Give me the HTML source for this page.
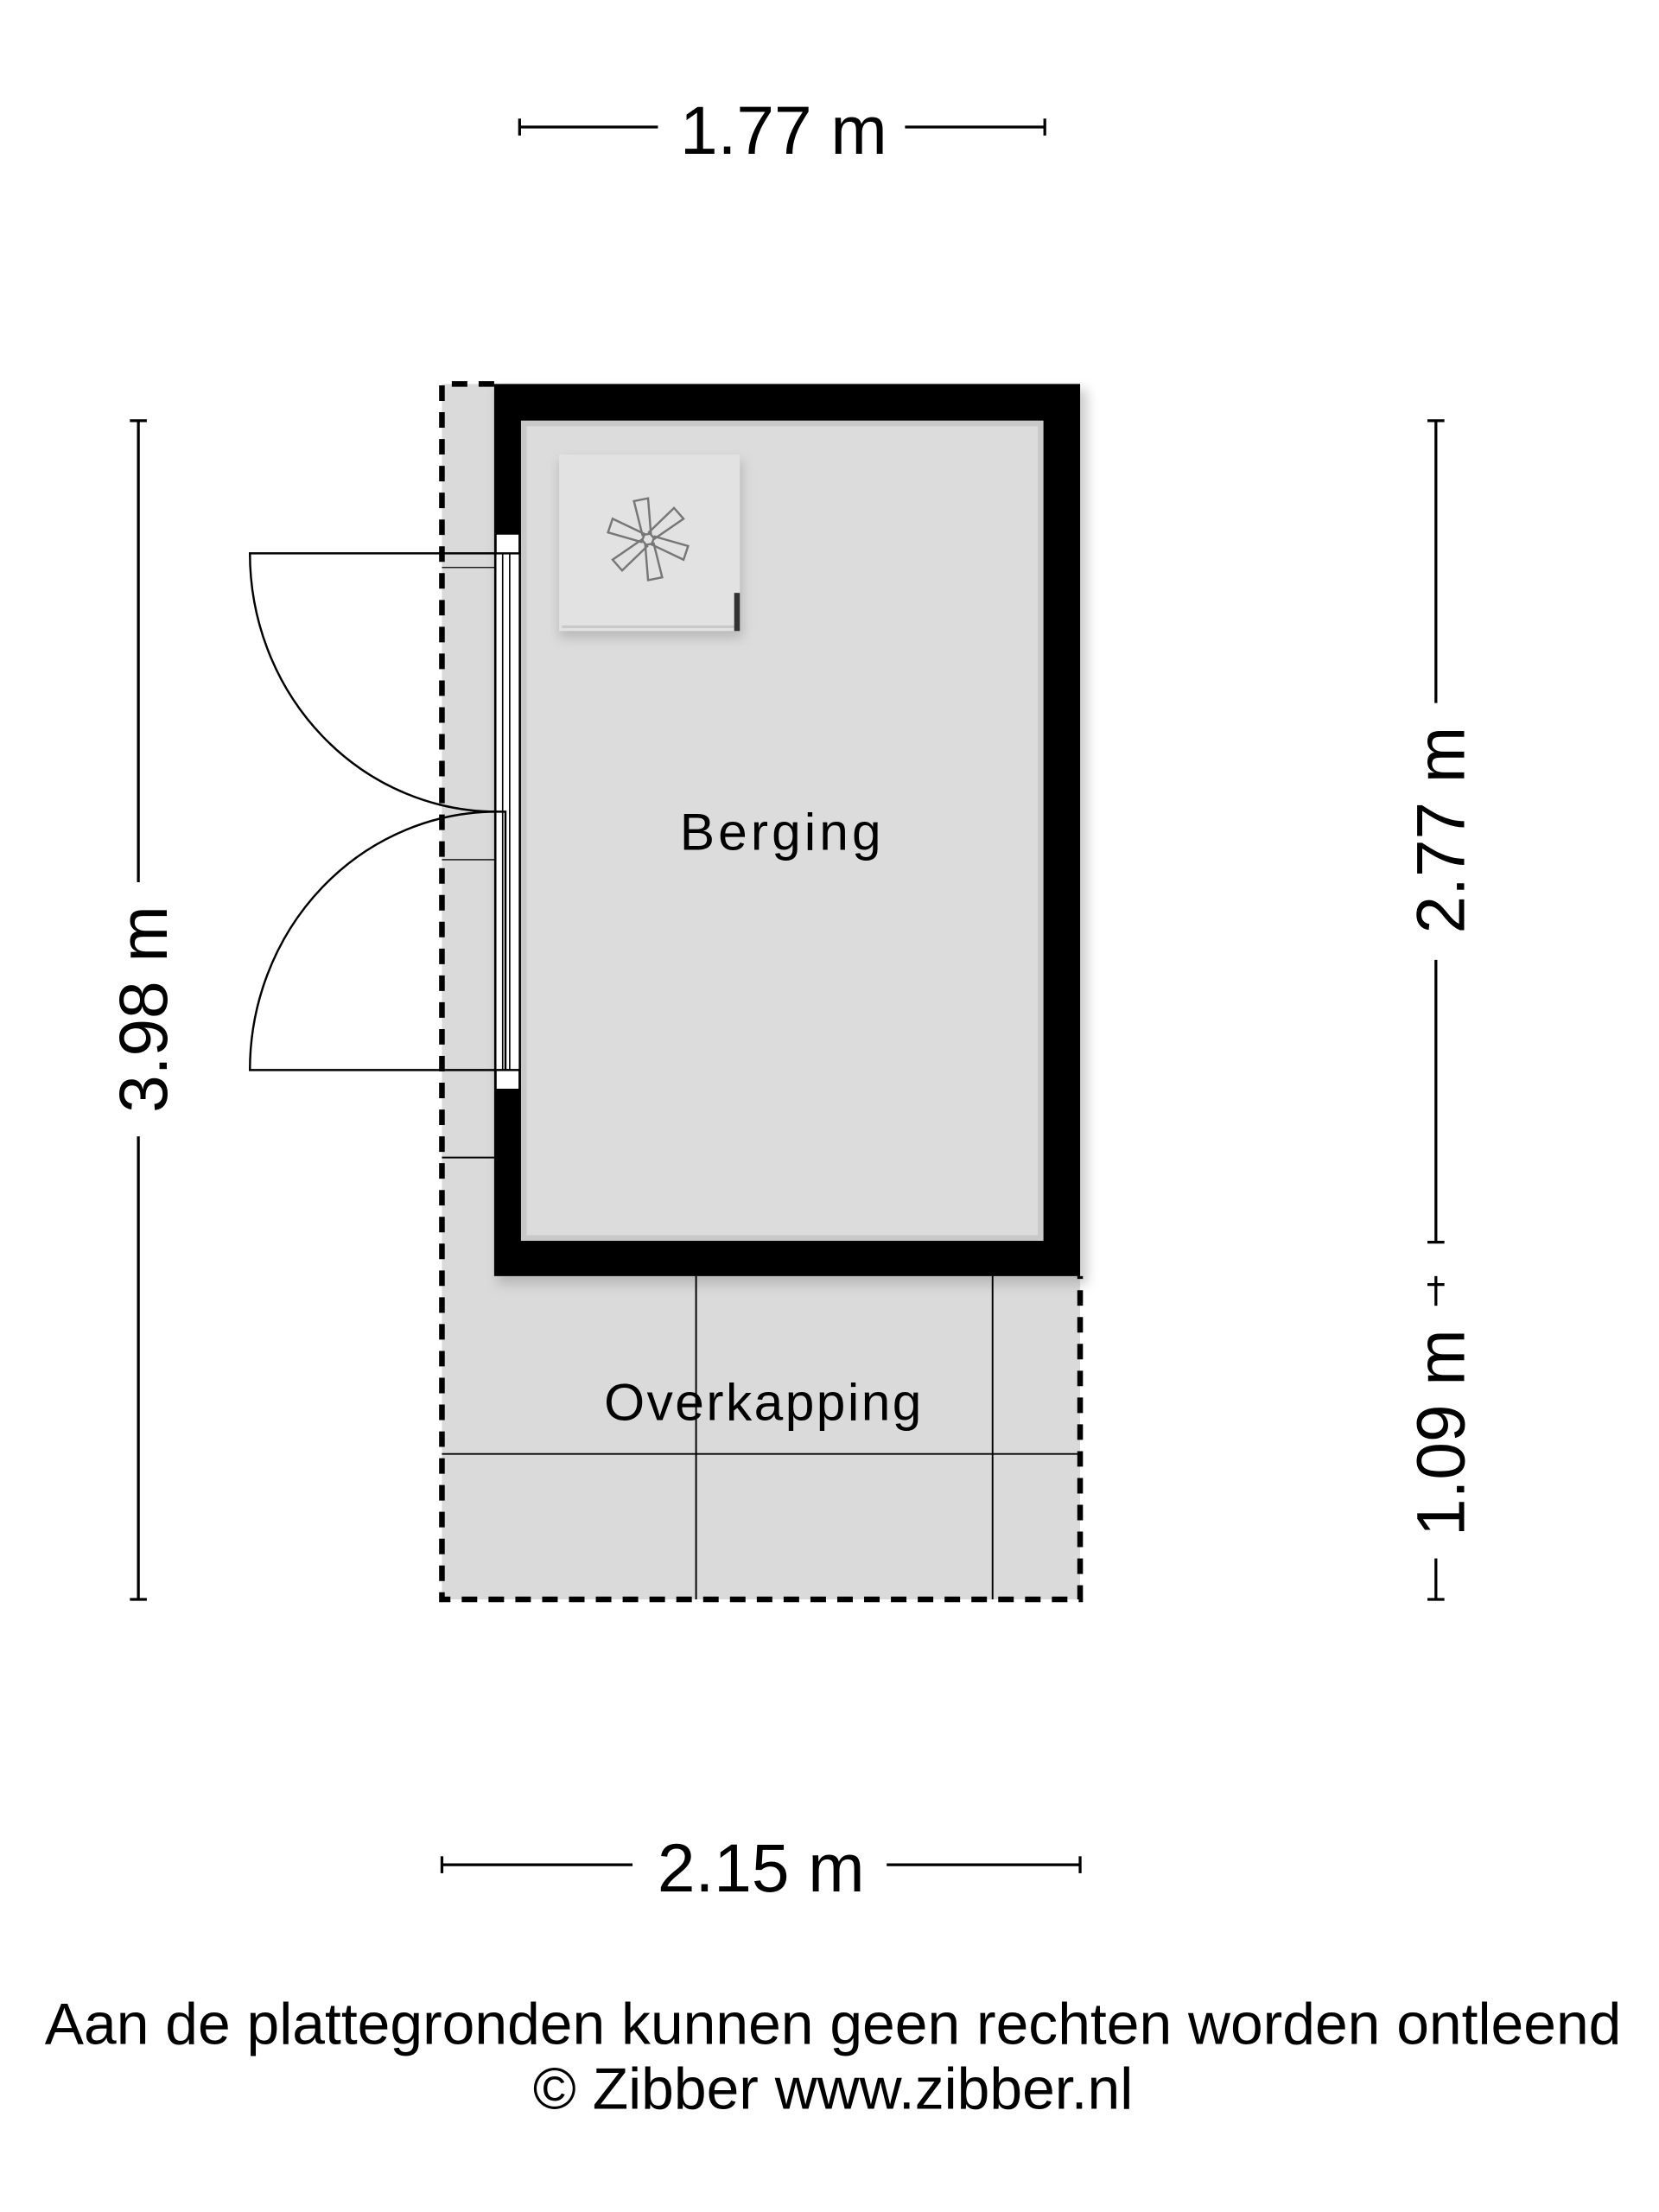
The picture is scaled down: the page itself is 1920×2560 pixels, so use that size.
<!DOCTYPE html>
<html><head><meta charset="utf-8"><style>html,body{margin:0;padding:0;background:#fff}svg{display:block}</style></head>
<body>
<svg width="1920" height="2560" viewBox="0 0 1175 1567" preserveAspectRatio="none" xmlns="http://www.w3.org/2000/svg" font-family="Liberation Sans, sans-serif">
<defs>
<filter id="sh" x="-10%" y="-10%" width="120%" height="120%"><feGaussianBlur stdDeviation="4"/></filter>
</defs>
<rect x="313" y="272" width="452" height="861" fill="#dadada"/>
<rect x="352" y="276" width="418" height="634" fill="#999" filter="url(#sh)" opacity="0.5"/>
<rect x="350" y="272" width="415" height="632" fill="#000"/>
<rect x="369" y="298" width="370" height="581" fill="#dcdcdc"/>
<rect x="371" y="300" width="366" height="577" fill="none" stroke="#c9c9c9" stroke-width="4"/>
<g stroke="#000" stroke-width="1.2">
<line x1="493" y1="904" x2="493" y2="1133"/>
<line x1="703" y1="904" x2="703" y2="1133"/>
<line x1="313" y1="1030" x2="765" y2="1030"/>
<line x1="313" y1="402" x2="352" y2="402" stroke-width="0.8"/>
<line x1="313" y1="609" x2="352" y2="609" stroke-width="0.8"/>
<line x1="313" y1="820" x2="350" y2="820"/>
</g>
<path d="M350 272 H313 V1133 H765 V904" fill="none" stroke="#000" stroke-width="4" stroke-dasharray="11 8"/>
<rect x="351" y="378" width="17" height="394" fill="#fff" stroke="#000" stroke-width="1.2"/>
<line x1="356" y1="392" x2="356" y2="758" stroke="#000" stroke-width="1"/>
<line x1="361" y1="392" x2="361" y2="758" stroke="#000" stroke-width="1"/>
<rect x="351" y="378" width="17" height="14" fill="#fff" stroke="#000" stroke-width="1.5"/>
<rect x="351" y="758" width="17" height="14" fill="#fff" stroke="#000" stroke-width="1.5"/>
<g fill="none" stroke="#000" stroke-width="1.5">
<path d="M351 392 H177 A175 183 0 0 0 352 575 H358 V758"/>
<path d="M351 758 H177 A175 183 0 0 1 352 575"/>
</g>
<rect x="396" y="326" width="130" height="126" fill="#aaa" filter="url(#sh)" opacity="0.7"/>
<rect x="396" y="322" width="128" height="125" fill="#e2e2e2"/>
<line x1="398" y1="444" x2="520" y2="444" stroke="#c8c8c8" stroke-width="2"/>
<rect x="520" y="420" width="4" height="27" fill="#333"/>
<g transform="translate(459,382)" fill="none" stroke="#777" stroke-width="1.5">
<path d="M-4 -3 L-10 -27 L0 -29 L2 -4 Z"/>
<path d="M-4 -3 L-10 -27 L0 -29 L2 -4 Z" transform="rotate(60)"/>
<path d="M-4 -3 L-10 -27 L0 -29 L2 -4 Z" transform="rotate(120)"/>
<path d="M-4 -3 L-10 -27 L0 -29 L2 -4 Z" transform="rotate(180)"/>
<path d="M-4 -3 L-10 -27 L0 -29 L2 -4 Z" transform="rotate(240)"/>
<path d="M-4 -3 L-10 -27 L0 -29 L2 -4 Z" transform="rotate(300)"/>
</g>
<text x="554" y="602" font-size="37" text-anchor="middle" letter-spacing="2.5">Berging</text>
<text x="541" y="1006" font-size="37" text-anchor="middle" letter-spacing="1.5">Overkapping</text>
<g stroke="#000" stroke-width="2">
<line x1="368" y1="90" x2="466" y2="90"/><line x1="641" y1="90" x2="740" y2="90"/>
<line x1="368" y1="84" x2="368" y2="96"/><line x1="740" y1="84" x2="740" y2="96"/>
<line x1="313" y1="1321" x2="448" y2="1321"/><line x1="628" y1="1321" x2="765" y2="1321"/>
<line x1="313" y1="1315" x2="313" y2="1327"/><line x1="765" y1="1315" x2="765" y2="1327"/>
<line x1="98" y1="298" x2="98" y2="625"/><line x1="98" y1="805" x2="98" y2="1133"/>
<line x1="92" y1="298" x2="104" y2="298"/><line x1="92" y1="1133" x2="104" y2="1133"/>
<line x1="1017" y1="298" x2="1017" y2="498"/><line x1="1017" y1="680" x2="1017" y2="880"/>
<line x1="1011" y1="298" x2="1023" y2="298"/><line x1="1011" y1="880" x2="1023" y2="880"/>
<line x1="1017" y1="904" x2="1017" y2="925"/><line x1="1017" y1="1104" x2="1017" y2="1133"/>
<line x1="1011" y1="910" x2="1023" y2="910"/><line x1="1011" y1="1133" x2="1023" y2="1133"/>
</g>
<g font-size="48" text-anchor="middle">
<text x="555" y="109">1.77 m</text>
<text x="539" y="1340">2.15 m</text>
<text transform="translate(118,715) rotate(-90)">3.98 m</text>
<text transform="translate(1037,588) rotate(-90)">2.77 m</text>
<text transform="translate(1037,1015) rotate(-90)">1.09 m</text>
</g>
<g font-size="41.5" text-anchor="middle">
<text x="590" y="1448">Aan de plattegronden kunnen geen rechten worden ontleend</text>
<text x="590" y="1494">© Zibber www.zibber.nl</text>
</g>
</svg>
</body></html>
